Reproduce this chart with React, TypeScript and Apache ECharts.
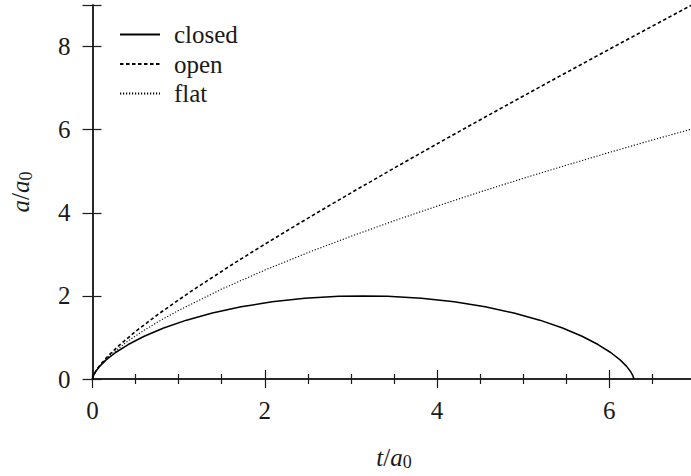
import React, { useEffect, useRef } from "react";
import * as echarts from "echarts";

// closed universe
const closedT = [0, 0.0013, 0.0106, 0.0354, 0.0826, 0.1585, 0.268, 0.4146, 0.6004, 0.8262, 1.0907, 1.3915, 1.7245, 2.0845, 2.465, 2.8589, 3.1416, 3.4243, 3.8182, 4.1987, 4.5587, 4.8917, 5.1925, 5.457, 5.6828, 5.8686, 6.0152, 6.1247, 6.2006, 6.2478, 6.2726, 6.2819, 6.2832];
const closedA = [0, 0.0199, 0.0789, 0.1747, 0.3033, 0.4597, 0.6376, 0.83, 1.0292, 1.2272, 1.4161, 1.5885, 1.7374, 1.8569, 1.9422, 1.99, 2.0, 1.99, 1.9422, 1.8569, 1.7374, 1.5885, 1.4161, 1.2272, 1.0292, 0.83, 0.6376, 0.4597, 0.3033, 0.1747, 0.0789, 0.0199, 0];

// open universe
const openT = [0, 0.0013, 0.0108, 0.0367, 0.0881, 0.1752, 0.3095, 0.5043, 0.7756, 1.1422, 1.6269, 1.9219, 2.2571, 2.637, 3.0662, 3.5502, 4.0947, 4.7063, 5.3919, 6.1596, 7.0179];
const openA = [0, 0.0201, 0.0811, 0.1855, 0.3374, 0.5431, 0.8107, 1.1509, 1.5775, 2.1075, 2.7622, 3.1443, 3.5679, 4.0372, 4.5569, 5.1323, 5.769, 6.4735, 7.2527, 8.1146, 9.0677];

// flat universe
const flatT = [0, 0.001, 0.01, 0.05, 0.1, 0.2, 0.4, 0.6, 0.8, 1, 1.5, 2, 2.5, 3, 3.5, 4, 4.5, 5, 5.5, 6, 6.5, 7];
const flatA = [0, 0.0165, 0.0766, 0.224, 0.356, 0.565, 0.896, 1.175, 1.423, 1.651, 2.163, 2.621, 3.041, 3.434, 3.806, 4.16, 4.501, 4.828, 5.144, 5.452, 5.751, 6.041];

const seriesNames = ["closed", "open", "flat"];
const xTickLabels = ["0", "2", "4", "6"];
const yTickLabels = ["0", "2", "4", "6", "8"];

const zip = (xs: number[], ys: number[]) => xs.map((x, i) => [x, ys[i]]);

const FONT = "Liberation Serif";
const INK = "#1a1a1a";

export default function App() {
  const ref = useRef<HTMLDivElement>(null);
  useEffect(() => {
    if (!ref.current) return;
    const chart = echarts.init(ref.current, undefined, { renderer: "svg" });
    const richName = {
      it: { fontFamily: FONT, fontStyle: "italic", fontSize: 25, color: INK },
      n: { fontFamily: FONT, fontSize: 25, color: INK },
      sub: { fontFamily: FONT, fontSize: 18, color: INK, padding: [10, 0, 0, 0] },
    };
    const axisCommon = {
      type: "value" as const,
      axisLine: { show: true, lineStyle: { color: INK, width: 1.5 } },
      axisTick: { show: true, inside: true, length: 9, lineStyle: { color: INK, width: 1.2 } },
      splitLine: { show: false },
    };
    const option: any = {
      animation: false,
      textStyle: { fontFamily: FONT, color: INK },
      grid: { left: 90, top: 5, right: 4.5, bottom: 97, containLabel: false },
      legend: {
        orient: "vertical",
        left: 119,
        top: 22,
        padding: 0,
        itemWidth: 40,
        itemHeight: 14,
        itemGap: 4.5,
        data: seriesNames,
        itemStyle: { opacity: 0, borderWidth: 0 },
        textStyle: { fontFamily: FONT, fontSize: 25, color: INK, padding: [0, 0, 0, 9] },
      },
      xAxis: [
        {
          ...axisCommon,
          min: 0,
          max: 7,
          interval: 2,
          position: "bottom",
          minorTick: { show: true, splitNumber: 4, length: 5, lineStyle: { color: INK, width: 1.2 } },
          axisLabel: {
            fontFamily: FONT,
            fontSize: 25,
            color: INK,
            margin: 19,
            formatter: (v: number) => (xTickLabels.includes(String(v)) ? String(v) : ""),
          },
          name: "{it|t}{n|/}{it|a}{sub|0}",
          nameLocation: "middle",
          nameGap: 64,
          nameTextStyle: { fontFamily: FONT, fontSize: 25, color: INK, rich: richName },
        },
        {
          ...axisCommon,
          min: 0,
          max: 7,
          interval: 2,
          position: "top",
          minorTick: { show: true, splitNumber: 4, length: 5, lineStyle: { color: INK, width: 1.2 } },
          axisLabel: { show: false },
        },
      ],
      yAxis: [
        {
          ...axisCommon,
          min: 0,
          max: 9,
          interval: 2,
          position: "left",
          axisLabel: {
            fontFamily: FONT,
            fontSize: 25,
            color: INK,
            margin: 22,
            formatter: (v: number) => (yTickLabels.includes(String(v)) ? String(v) : ""),
          },
          name: "{it|a}{n|/}{it|a}{sub|0}",
          nameLocation: "middle",
          nameGap: 58,
          nameTextStyle: { fontFamily: FONT, fontSize: 25, color: INK, rich: richName },
        },
        {
          ...axisCommon,
          min: 0,
          max: 9,
          interval: 2,
          position: "right",
          axisTick: { show: true, inside: true, length: 10, lineStyle: { color: INK, width: 1.2 } },
          axisLabel: { show: false },
        },
      ],
      series: [
        {
          name: "closed",
          type: "line",
          data: zip(closedT, closedA),
          symbol: "none",
          showSymbol: false,
          lineStyle: { color: "#000", width: 1.5, type: "solid" },
          itemStyle: { color: "#000" },
        },
        {
          name: "open",
          type: "line",
          data: zip(openT, openA),
          symbol: "none",
          showSymbol: false,
          lineStyle: { color: "#000", width: 1.6, type: [3.5, 2.5] },
          itemStyle: { color: "#000" },
        },
        {
          name: "flat",
          type: "line",
          data: zip(flatT, flatA),
          symbol: "none",
          showSymbol: false,
          lineStyle: { color: "#000", width: 1.1, type: [1.2, 1.8] },
          itemStyle: { color: "#000" },
        },
      ],
    };
    chart.setOption(option);
    return () => chart.dispose();
  }, []);
  return (
    <div style={{ position: "fixed", left: 0, top: 0, width: 691, height: 476, overflow: "hidden", background: "#fff" }}>
      <style>{`#chart-box svg text, #chart-box svg tspan { font-family: "Liberation Serif", serif !important; }`}</style>
      <div id="chart-box" ref={ref} style={{ width: 700, height: 476 }} />
    </div>
  );
}
